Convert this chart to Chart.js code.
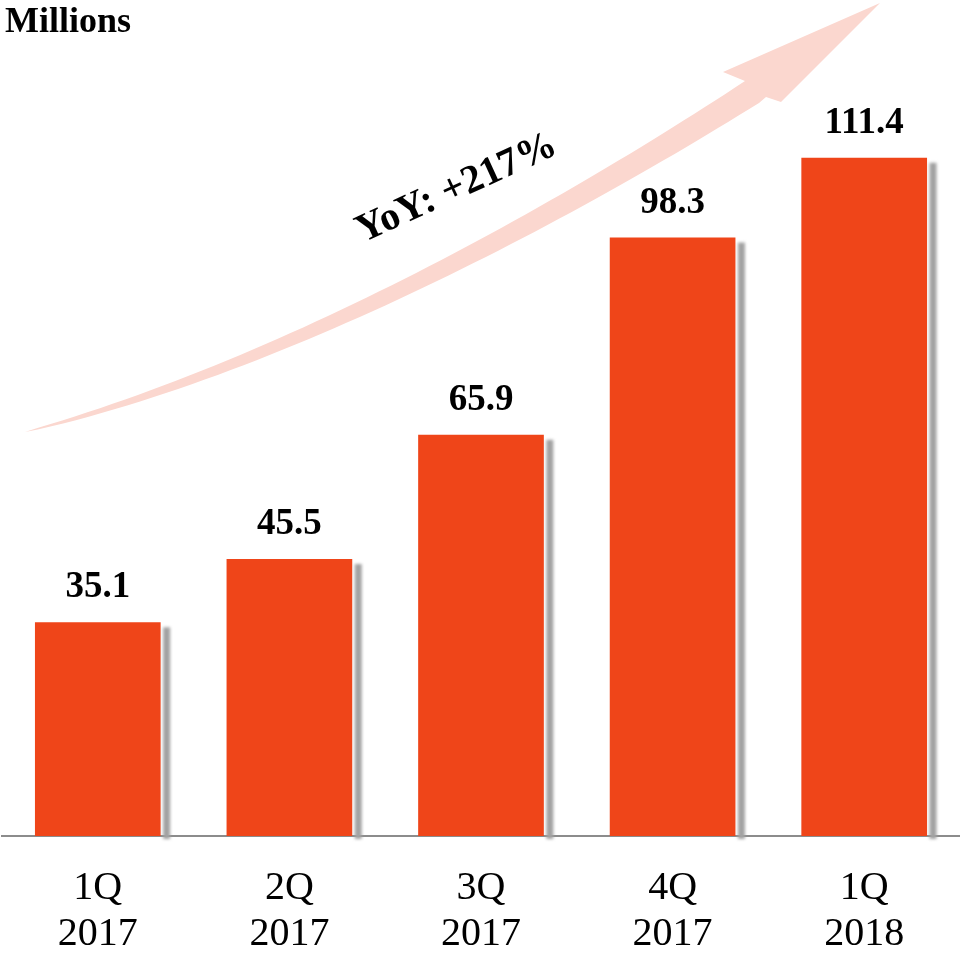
<!DOCTYPE html>
<html>
<head>
<meta charset="utf-8">
<title>Users by quarter</title>
<script src="https://cdn.jsdelivr.net/npm/chart.js@4.4.1/dist/chart.umd.min.js"></script>
<style>
  html, body { margin: 0; padding: 0; background: #fff; }
  #wrap { width: 960px; height: 953px; }
</style>
</head>
<body>
<div id="wrap"><canvas id="usersChart" width="960" height="953"></canvas></div>
<script>
// Chart data
const quarters = [['1Q', '2017'], ['2Q', '2017'], ['3Q', '2017'], ['4Q', '2017'], ['1Q', '2018']];
const users = [35.1, 45.5, 65.9, 98.3, 111.4];
const unitLabel = 'Millions';
const growthLabel = 'YoY: +217%';

const serif = '"Liberation Serif", "Times New Roman", serif';
const barColor = '#EF4519';
const arrowColor = '#FBD7CF';

// cubic point helper for the growth arrow
function bez(p0, p1, p2, p3, t) {
    const u = 1 - t;
    return [
        u*u*u*p0[0] + 3*u*u*t*p1[0] + 3*u*t*t*p2[0] + t*t*t*p3[0],
        u*u*u*p0[1] + 3*u*u*t*p1[1] + 3*u*t*t*p2[1] + t*t*t*p3[1]
    ];
}

const decorPlugin = {
    id: 'decor',
    beforeDatasetsDraw(chart) {
        const ctx = chart.ctx;
        // Growth arrow (tapered curved shaft + head)
        const p0 = [25, 432], p1 = [275, 369], p2 = [552, 220], p3 = [752, 92];
        const top = [], bottom = [];
        const steps = 60;
        for (let i = 0; i <= steps; i++) {
            const t = i / steps;
            const a = bez(p0, p1, p2, p3, t);
            const b = bez(p0, p1, p2, p3, Math.min(1, t + 0.001));
            const c = bez(p0, p1, p2, p3, Math.max(0, t - 0.001));
            let dx = b[0] - c[0], dy = b[1] - c[1];
            const len = Math.hypot(dx, dy) || 1;
            dx /= len; dy /= len;
            const w = 13 * Math.pow(t, 0.7);
            top.push([a[0] + dy * w, a[1] - dx * w]);
            bottom.push([a[0] - dy * w, a[1] + dx * w]);
        }
        ctx.save();
        ctx.fillStyle = arrowColor;
        ctx.beginPath();
        ctx.moveTo(top[0][0], top[0][1]);
        top.forEach(p => ctx.lineTo(p[0], p[1]));
        ctx.lineTo(723, 72);
        ctx.lineTo(880, 3);
        ctx.lineTo(781, 102);
        ctx.lineTo(766, 97);
        for (let i = bottom.length - 1; i >= 0; i--) ctx.lineTo(bottom[i][0], bottom[i][1]);
        ctx.closePath();
        ctx.fill();
        ctx.restore();

        // gray drop shadow to the right of each bar
        chart.getDatasetMeta(0).data.forEach(bar => {
            const p = bar.getProps(['x', 'y', 'width', 'base'], true);
            const right = p.x + p.width / 2;
            ctx.save();
            ctx.filter = 'blur(1.5px)';
            ctx.fillStyle = '#a2a2a2';
            ctx.fillRect(right + 2.5, p.y + 5, 7, p.base - p.y - 2);
            ctx.restore();
        });
    },
    afterDatasetsDraw(chart) {
        const ctx = chart.ctx;
        // value labels
        ctx.save();
        ctx.fillStyle = '#000';
        ctx.font = 'bold 37px ' + serif;
        ctx.textAlign = 'center';
        ctx.textBaseline = 'alphabetic';
        chart.getDatasetMeta(0).data.forEach((bar, i) => {
            ctx.fillText(users[i].toFixed(1), bar.x, bar.y - 25);
        });

        // unit label
        ctx.font = 'bold 36px ' + serif;
        ctx.textAlign = 'left';
        ctx.fillText(unitLabel, 5, 32);

        // growth note
        ctx.font = 'bold 40px ' + serif;
        ctx.translate(461, 198);
        ctx.rotate(-24.5 * Math.PI / 180);
        ctx.textAlign = 'center';
        ctx.fillText(growthLabel, 0, 0);
        ctx.restore();
    }
};

const ctx = document.getElementById('usersChart').getContext('2d');
new Chart(ctx, {
    type: 'bar',
    data: {
        labels: quarters,
        datasets: [{
            label: unitLabel,
            data: users,
            backgroundColor: barColor,
            borderWidth: 0,
            barPercentage: 0.656,
            categoryPercentage: 1
        }]
    },
    options: {
        responsive: false,
        animation: false,
        devicePixelRatio: 1,
        layout: { padding: { top: 75, left: 2, right: 0, bottom: 0 } },
        plugins: {
            legend: { display: false },
            tooltip: { enabled: false }
        },
        scales: {
            x: {
                afterFit: scale => { scale.height = 117; },
                grid: { display: false, drawTicks: false },
                border: { display: true, color: '#8c8c8c', width: 2 },
                ticks: {
                    color: '#000',
                    padding: 29,
                    maxRotation: 0,
                    font: { family: serif, size: 40, lineHeight: 1.15 }
                }
            },
            y: {
                display: false,
                min: 0,
                max: 125
            }
        }
    },
    plugins: [decorPlugin]
});
</script>
</body>
</html>
